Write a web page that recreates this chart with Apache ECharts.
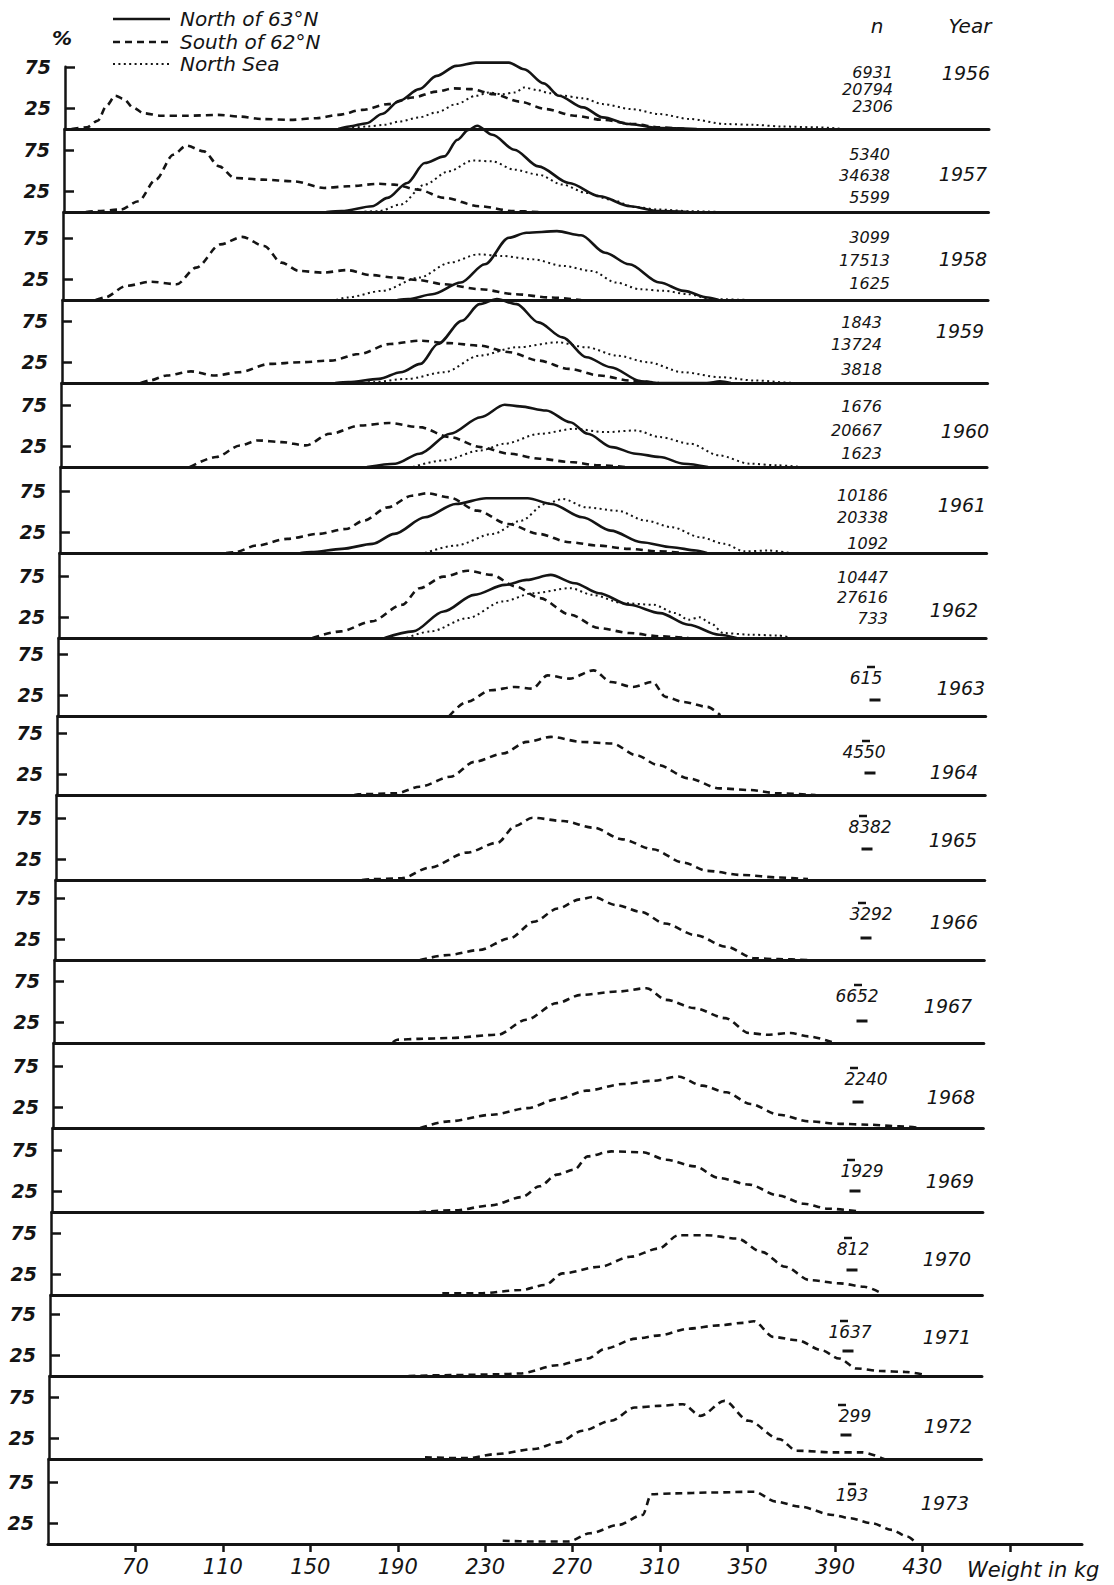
<!DOCTYPE html>
<html><head><meta charset="utf-8">
<script src="https://cdn.jsdelivr.net/npm/echarts@6/dist/echarts.min.js"></script>
<style>html,body{margin:0;padding:0;background:#fff}#c{width:1114px;height:1585px}</style>
</head><body><div id="c"></div>
<script>
// ---------------- DATA ----------------
const years = [1956,1957,1958,1959,1960,1961,1962,1963,1964,1965,1966,1967,1968,1969,1970,1971,1972,1973];
const seriesNames = ['North of 63°N','South of 62°N','North Sea'];
const weightTicks = [70,110,150,190,230,270,310,350,390,430];
const weightTickMarks = [70,110,150,190,230,270,310,350,390,430,470];
const pctTicks = [25,75];

// n per year: north of 63N, south of 62N, North Sea
const nNorth = ['6931','5340','3099','1843','1676','10186','10447'];
const nSouth = ['20794','34638','17513','13724','20667','20338','27616','615','4550','8382','3292','6652','2240','1929','812','1637','299','193'];
const nSea   = ['2306','5599','1625','3818','1623','1092','733'];

// [weight kg, percent]
const north1956 = [[155,0],[160,3],[168,7],[175,18],[183,34],[192,48],[200,64],[209,76],[218,80],[233,80],[240,72],[249,55],[256,40],[267,26],[276,14],[288,6],[302,1],[319,0]];
const south1956 = [[33,0],[40,2],[45,10],[49,28],[53,40],[57,36],[61,26],[66,19],[74,16],[86,16],[100,17],[110,15],[120,12],[133,11],[145,13],[155,17],[166,23],[178,30],[189,38],[200,45],[208,49],[216,48],[226,42],[238,33],[250,24],[263,16],[276,11],[290,6],[302,2],[314,0]];
const sea1956   = [[159,0],[168,3],[176,5],[183,9],[192,14],[200,20],[209,30],[218,40],[224,44],[230,42],[236,44],[240,50],[246,47],[252,43],[258,40],[267,37],[276,30],[289,24],[302,18],[316,12],[332,6],[345,5],[358,3],[374,2],[386,0]];

const north1957 = [[150,0],[157,1],[171,7],[178,17],[187,35],[195,59],[204,67],[210,87],[215,99],[219,104],[226,93],[236,75],[247,55],[261,35],[275,19],[289,7],[302,1],[316,0]];
const south1957 = [[40,0],[45,1],[56,3],[64,13],[72,39],[80,69],[86,80],[94,73],[101,55],[108,41],[121,39],[135,37],[149,29],[160,31],[174,34],[181,33],[192,27],[204,17],[220,7],[236,1],[247,0]];
const sea1957   = [[165,0],[174,1],[184,9],[195,33],[206,49],[217,62],[226,61],[236,51],[247,45],[258,33],[269,23],[280,15],[291,6],[302,3],[316,1],[330,0]];

const north1958 = [[183,0],[188,1],[199,7],[212,21],[223,43],[234,75],[242,81],[256,83],[267,78],[278,57],[289,43],[303,21],[314,11],[325,3],[330,0]];
const south1958 = [[45,0],[49,3],[59,17],[70,22],[82,19],[91,39],[102,67],[112,76],[122,65],[130,45],[138,35],[149,33],[160,36],[171,30],[182,27],[193,24],[204,19],[221,13],[237,7],[253,3],[267,0]];
const sea1958   = [[155,0],[160,3],[176,11],[193,27],[207,45],[220,55],[231,53],[245,49],[259,41],[272,35],[283,21],[294,13],[305,11],[316,7],[327,1],[344,0]];

const north1959 = [[155,0],[161,1],[175,5],[185,13],[194,23],[202,47],[213,75],[221,95],[229,101],[238,95],[248,73],[259,55],[270,31],[281,19],[295,2],[303,0],[325,0],[331,2],[336,0]];
const south1959 = [[66,0],[70,3],[78,9],[89,14],[100,9],[111,13],[125,23],[139,25],[153,27],[166,35],[180,47],[194,51],[207,48],[221,45],[235,37],[248,27],[262,17],[276,9],[290,3],[303,0]];
const sea1959   = [[165,0],[172,1],[188,5],[205,13],[221,33],[238,43],[257,49],[270,43],[284,33],[298,25],[314,13],[331,7],[347,3],[366,0],[377,0]];

const north1960 = [[170,0],[183,4],[194,16],[208,40],[222,60],[233,75],[240,73],[252,68],[263,54],[271,40],[282,24],[293,16],[304,12],[315,4],[326,0]];
const south1960 = [[89,0],[101,12],[112,26],[120,32],[131,30],[142,26],[153,40],[167,50],[180,53],[194,48],[208,36],[222,24],[235,16],[249,10],[263,6],[276,2],[288,0]];
const sea1960   = [[191,0],[205,8],[222,20],[233,28],[249,40],[265,46],[279,42],[293,44],[304,36],[318,28],[331,14],[345,4],[358,2],[369,0]];

const north1961 = [[140,0],[145,1],[159,5],[173,11],[183,23],[197,43],[211,59],[225,66],[244,66],[255,59],[269,43],[282,27],[296,13],[310,7],[321,3],[326,0]];
const south1961 = [[106,0],[110,1],[120,9],[134,17],[148,23],[161,29],[169,39],[180,55],[191,69],[198,72],[208,67],[221,51],[235,35],[249,23],[263,13],[276,9],[290,5],[304,2],[315,0]];
const sea1961   = [[197,0],[211,9],[228,23],[241,39],[252,59],[260,65],[271,55],[285,51],[298,39],[310,31],[323,19],[334,11],[343,2],[354,3],[364,0]];

const north1962 = [[179,0],[192,8],[206,32],[220,52],[234,64],[244,70],[255,76],[266,66],[277,54],[291,40],[305,30],[318,16],[332,4],[340,0]];
const south1962 = [[146,0],[159,8],[173,20],[187,40],[195,60],[206,74],[217,81],[228,76],[239,62],[250,48],[264,28],[277,12],[291,6],[305,2],[318,0]];
const sea1962   = [[189,0],[200,8],[217,24],[233,44],[247,54],[264,60],[274,52],[288,42],[302,40],[312,30],[318,22],[323,25],[328,18],[334,6],[346,4],[359,3],[365,0]];

const south1963 = [[209,0],[217,17],[228,31],[239,35],[247,33],[254,49],[264,45],[275,55],[283,41],[293,35],[302,41],[308,23],[316,17],[327,11],[333,1]];
const south1964 = [[166,0],[169,1],[185,2],[196,10],[210,22],[221,40],[234,50],[245,64],[256,70],[270,64],[284,62],[295,48],[305,36],[319,20],[333,8],[347,6],[360,2],[377,0]];
const south1965 = [[170,0],[174,1],[188,2],[201,15],[218,33],[232,45],[240,65],[248,75],[262,71],[276,63],[289,49],[303,37],[317,21],[328,11],[344,6],[361,3],[374,1]];
const south1966 = [[197,0],[210,6],[224,12],[238,26],[249,46],[260,62],[270,73],[276,76],[287,66],[298,58],[309,44],[323,30],[337,16],[350,2],[361,1],[375,0]];
const south1967 = [[185,1],[187,4],[197,5],[211,6],[233,10],[246,28],[260,48],[271,58],[288,62],[301,66],[310,52],[323,42],[337,30],[348,12],[356,10],[367,12],[375,8],[387,0]];
const south1968 = [[198,0],[211,8],[231,16],[247,24],[261,35],[274,45],[291,53],[305,57],[316,62],[327,51],[338,43],[349,29],[362,16],[376,8],[390,5],[403,4],[417,2],[427,0]];
const south1969 = [[198,0],[214,2],[231,8],[245,18],[253,31],[261,45],[269,51],[275,67],[286,73],[300,72],[311,63],[324,55],[335,41],[349,33],[362,20],[374,10],[385,4],[398,1]];
const south1970 = [[209,2],[226,2],[245,6],[256,12],[264,26],[281,34],[295,46],[308,56],[317,72],[330,72],[344,68],[355,52],[366,34],[377,18],[391,14],[402,10],[410,2]];
const south1971 = [[194,0],[213,1],[235,2],[245,3],[262,13],[276,21],[284,33],[298,45],[309,49],[322,57],[336,61],[347,64],[352,66],[361,47],[372,43],[383,31],[391,21],[399,9],[410,6],[421,5],[431,1]];
const south1972 = [[202,2],[221,1],[235,6],[252,12],[263,20],[274,34],[287,46],[298,62],[309,64],[320,66],[328,52],[339,70],[350,46],[364,24],[372,10],[389,8],[402,8],[412,0]];
const south1973 = [[238,4],[252,3],[268,3],[278,13],[291,23],[302,35],[306,60],[317,61],[333,62],[353,63],[363,51],[374,45],[389,35],[397,31],[407,25],[416,17],[423,9],[426,4]];

const northData = [north1956,north1957,north1958,north1959,north1960,north1961,north1962];
const southData = [south1956,south1957,south1958,south1959,south1960,south1961,south1962,south1963,south1964,south1965,south1966,south1967,south1968,south1969,south1970,south1971,south1972,south1973];
const seaData   = [sea1956,sea1957,sea1958,sea1959,sea1960,sea1961,sea1962];

// ---------------- LAYOUT ----------------
const INK = '#141414';
const FONT = 'DejaVu Sans';
const BASE = [129,212,300,383,467,553,638,716,795,880,960,1043,1128,1212,1295,1376,1459,1544];
const PX_PER_UNIT = 0.83, PX_PER_KG = 2.186, XMIN = 30;
const AXIS_TOP_X = 65, AXIS_BOTTOM_X = 48;
const YEAR_X = [966,963,963,960,965,962,954,961,954,953,954,948,951,950,947,947,948,945];
const YEAR_Y = [73,174,259,331,431,505,610,688,772,840,922,1006,1097,1181,1259,1337,1426,1503];
const N3_X = [893,890,890,882,882,888,888];
const N3_Y = [[72,89,106],[154,175,197],[237,260,283],[322,344,369],[406,430,453],[495,517,543],[577,597,618]];
const N1_X = [866,864,870,871,857,866,862,853,850,855,852];
const N1_Y = [678,752,827,914,996,1079,1171,1249,1332,1416,1495];
const DASH_X = [875,870,867,866,862,858,855,852,848,846,null];
const DASH_Y = [700,773,849,938,1021,1102,1191,1270,1351,1435,null];
const LEGEND_Y = [19,42,64];

const lineStyles = [
  {type:'solid', width:2.6, color:INK},
  {type:[7,5], width:2.6, color:INK},
  {type:[2,3.4], width:2.0, color:INK}
];

const grids=[], xAxes=[], yAxes=[], series=[], graphics=[];
const n = years.length;
years.forEach((yr,i)=>{
  const b = BASE[i];
  const t = (b-BASE[0])/(BASE[n-1]-BASE[0]);
  const left = AXIS_TOP_X - (AXIS_TOP_X-AXIS_BOTTOM_X)*t;
  const last = i===n-1;
  const right = last ? 1082 : 989 - 8*t;
  const width = right-left;
  const height = i===0 ? 75*PX_PER_UNIT : b-BASE[i-1];
  grids.push({left:left, top:b-height, width:width, height:height, containLabel:false, outerBoundsMode:'none'});
  xAxes.push({
    gridIndex:i, type:'value', min:XMIN, max:XMIN+width/PX_PER_KG,
    axisLine:{show:true, onZero:false, lineStyle:{color:INK, width:3}},
    axisTick:{show:last, customValues:weightTickMarks, length:8, lineStyle:{color:INK,width:2.5}},
    axisLabel:{show:last, customValues:weightTicks, margin:12, color:INK, fontFamily:FONT, fontStyle:'italic', fontSize:21},
    splitLine:{show:false}
  });
  yAxes.push({
    gridIndex:i, type:'value', min:0, max:height/PX_PER_UNIT,
    axisLine:{show:true, lineStyle:{color:INK, width:2.5}},
    axisTick:{show:true, inside:true, length:10, customValues:pctTicks, lineStyle:{color:INK,width:2.5}},
    axisLabel:{customValues:pctTicks, margin:14, color:INK, fontFamily:FONT, fontStyle:'italic', fontWeight:'bold', fontSize:19},
    splitLine:{show:false}
  });
  const sets = [northData[i], southData[i], seaData[i]];
  sets.forEach((d,k)=>{
    if(!d) return;
    series.push({
      type:'line', name:seriesNames[k], xAxisIndex:i, yAxisIndex:i, data:d,
      symbol:'none', smooth:0.3, smoothMonotone:'x', clip:false, silent:true,
      itemStyle:{color:INK}, lineStyle:lineStyles[k]
    });
  });
});

function txt(x,y,s,font,align){
  graphics.push({type:'text', x:x, y:y, silent:true, style:{text:s, fill:INK, font:font,
    textAlign:align||'center', align:align||'center', textVerticalAlign:'middle', verticalAlign:'middle'}});
}
function bar(cx,cy,w,h){
  graphics.push({type:'rect', silent:true, shape:{x:cx-w/2, y:cy-h/2, width:w, height:h}, style:{fill:INK}});
}
// legend (line samples + names)
seriesNames.forEach((nm,k)=>{
  const ls = lineStyles[k];
  graphics.push({type:'line', silent:true, shape:{x1:113,y1:LEGEND_Y[k],x2:170,y2:LEGEND_Y[k]},
    style:{stroke:INK, lineWidth:ls.width, lineDash: Array.isArray(ls.type)?ls.type:null}});
  txt(180,LEGEND_Y[k],nm,'italic 20px "DejaVu Sans"','left');
});
const F_N = 'italic 16px "DejaVu Sans"';
const F_Y = 'italic 19px "DejaVu Sans"';
txt(62,38,'%','italic bold 20px "DejaVu Sans"');
txt(877,26,'n','italic 20px "DejaVu Sans"');
txt(970,26,'Year','italic 20px "DejaVu Sans"');
years.forEach((yr,i)=> txt(YEAR_X[i],YEAR_Y[i],String(yr),F_Y));
for(let i=0;i<nNorth.length;i++){
  txt(N3_X[i],N3_Y[i][0],nNorth[i],F_N,'right');
  txt(N3_X[i],N3_Y[i][1],nSouth[i],F_N,'right');
  txt(N3_X[i],N3_Y[i][2],nSea[i],F_N,'right');
}
for(let j=0;j<N1_X.length;j++){
  const i = nNorth.length+j;
  txt(N1_X[j],N1_Y[j],nSouth[i],'italic 17px "DejaVu Sans"');
  bar((DASH_X[j]||N1_X[j]+4)-4, N1_Y[j]-11, 8, 2.5);
  if(DASH_X[j]) bar(DASH_X[j], DASH_Y[j], 11, 3);
}
txt(967,1570,'Weight in kg','italic 21px "DejaVu Sans"','left');

const chart = echarts.init(document.getElementById('c'), null, {renderer:'svg', width:1114, height:1585});
chart.setOption({
  animation:false,
  backgroundColor:'#ffffff',
  textStyle:{fontFamily:FONT, color:INK},
  grid:grids, xAxis:xAxes, yAxis:yAxes, series:series, graphic:graphics
});
</script></body></html>
